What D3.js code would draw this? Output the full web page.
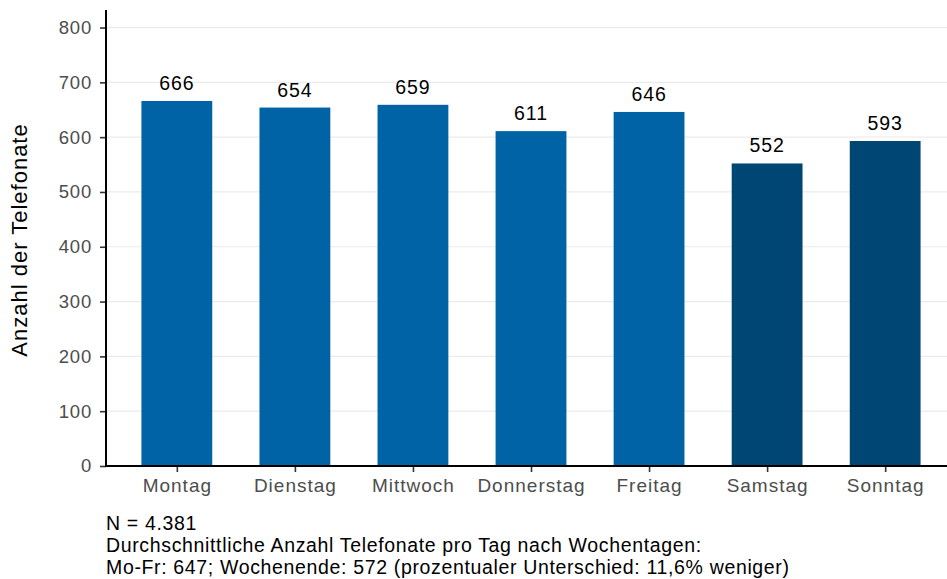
<!DOCTYPE html>
<html>
<head>
<meta charset="utf-8">
<script src="https://cdn.jsdelivr.net/npm/d3@7"></script>
<style>
  html, body { margin: 0; padding: 0; background: #fff; }
  svg { display: block; font-family: "Liberation Sans", Arial, sans-serif; }
</style>
</head>
<body>
<svg id="chart" width="947" height="579"></svg>
<script>
// Average calls per weekday
const days = ["Montag", "Dienstag", "Mittwoch", "Donnerstag", "Freitag", "Samstag", "Sonntag"];
const calls = [666, 654, 659, 611, 646, 552, 593];
const weekend = [false, false, false, false, false, true, true];
const yTicks = [0, 100, 200, 300, 400, 500, 600, 700, 800];
const notes = [
  "N = 4.381",
  "Durchschnittliche Anzahl Telefonate pro Tag nach Wochentagen:",
  "Mo-Fr: 647; Wochenende: 572 (prozentualer Unterschied: 11,6% weniger)"
];

const svg = d3.select("#chart");
const plot = { left: 106, right: 956, top: 10, bottom: 466 };

const x = d3.scalePoint().domain(days).range([plot.left, plot.right]).padding(0.6);
const barW = x.step() * 0.6;
const y = d3.scaleLinear().domain([0, 832]).range([plot.bottom, plot.top]);

// grid
svg.append("g").selectAll("line").data(yTicks).join("line")
  .attr("x1", plot.left).attr("x2", 947)
  .attr("y1", d => y(d)).attr("y2", d => y(d))
  .attr("stroke", "#ebebeb").attr("stroke-width", 1.2);

// bars
svg.append("g").selectAll("rect").data(days).join("rect")
  .attr("x", d => x(d) - barW / 2)
  .attr("width", barW)
  .attr("y", (d, i) => y(calls[i]))
  .attr("height", (d, i) => y(0) - y(calls[i]))
  .attr("fill", (d, i) => weekend[i] ? "#004674" : "#0063a6");

// value labels
svg.append("g").selectAll("text").data(days).join("text")
  .attr("x", d => x(d))
  .attr("y", (d, i) => y(calls[i]) - 11)
  .attr("text-anchor", "middle")
  .attr("font-size", 19.5)
  .attr("letter-spacing", 0.9)
  .attr("fill", "#000")
  .text((d, i) => calls[i]);

// y axis
const yAxis = svg.append("g").attr("transform", `translate(${plot.left},0)`)
  .call(d3.axisLeft(y).tickValues(yTicks).tickSize(6).tickPadding(8));
yAxis.select(".domain").remove();
yAxis.selectAll(".tick line").attr("stroke", "#333").attr("stroke-width", 1.6);
yAxis.selectAll(".tick text").attr("fill", "#4d4d4d").attr("font-size", 18.5)
  .attr("letter-spacing", 0.8)
  .attr("font-family", "Liberation Sans, Arial, sans-serif");
svg.append("line").attr("x1", plot.left).attr("x2", plot.left)
  .attr("y1", plot.top).attr("y2", plot.bottom + 1)
  .attr("stroke", "#000").attr("stroke-width", 2);

// x axis
const xAxis = svg.append("g").attr("transform", `translate(0,${plot.bottom})`)
  .call(d3.axisBottom(x).tickSize(6).tickPadding(7));
xAxis.select(".domain").remove();
xAxis.selectAll(".tick line").attr("stroke", "#333").attr("stroke-width", 1.6);
xAxis.selectAll(".tick text").attr("fill", "#4d4d4d").attr("font-size", 19)
  .attr("letter-spacing", 1)
  .attr("font-family", "Liberation Sans, Arial, sans-serif");
svg.append("line").attr("x1", plot.left - 1).attr("x2", 947)
  .attr("y1", plot.bottom).attr("y2", plot.bottom)
  .attr("stroke", "#000").attr("stroke-width", 2);

// y axis title
svg.append("text")
  .attr("transform", `translate(27,${(plot.top + plot.bottom) / 2 + 2}) rotate(-90)`)
  .attr("text-anchor", "middle")
  .attr("font-size", 22)
  .attr("letter-spacing", 1)
  .attr("fill", "#000")
  .text("Anzahl der Telefonate");

// footnote
svg.append("g").selectAll("text").data(notes).join("text")
  .attr("x", plot.left)
  .attr("y", (d, i) => 530 + i * 22)
  .attr("font-size", 19.5)
  .attr("letter-spacing", 0.65)
  .attr("fill", "#000")
  .text(d => d);
</script>
</body>
</html>
